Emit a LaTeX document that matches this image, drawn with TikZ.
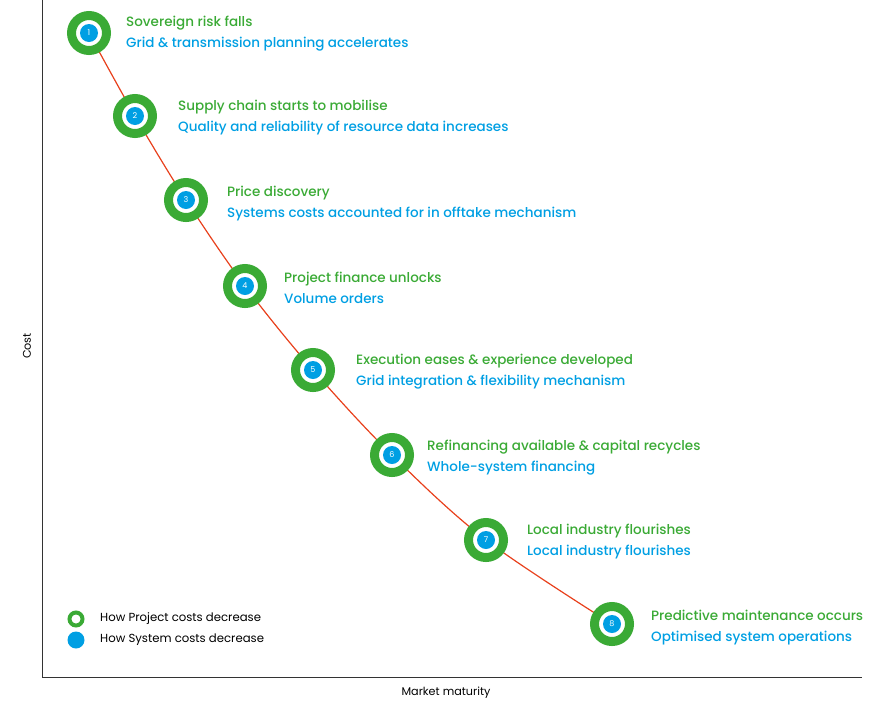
\documentclass[tikz,border=0pt]{standalone}
\usepackage{fontspec}
\setmainfont{Poppins}[UprightFont=* Medium]
\newfontfamily\legfont{Poppins}
\definecolor{cgreen}{HTML}{3AAA35}
\definecolor{cblue}{HTML}{009FE3}
\definecolor{cred}{HTML}{E8401C}
\definecolor{caxis}{HTML}{333333}
\begin{document}
\begin{tikzpicture}[x=1pt,y=-1pt,
  ring/.style={circle,draw=cgreen,line width=9pt,fill=white,minimum size=35pt,inner sep=0pt},
  dot/.style={circle,fill=cblue,minimum size=18pt,inner sep=0pt,text=white,font=\legfont\fontsize{8}{8}\selectfont},
  lbl/.style={anchor=west,align=left,inner sep=0pt,font=\fontsize{13.5}{21}\selectfont},
  axlbl/.style={font=\legfont\fontsize{11.2}{12}\selectfont,text=black,inner sep=0pt},
  leg/.style={anchor=west,font=\legfont\fontsize{11.7}{12}\selectfont,text=black,inner sep=0pt}]
\useasboundingbox (0,0) rectangle (879,702);
% axes
\coordinate (top) at (42,0);
\coordinate (orig) at (42,677);
\coordinate (right) at (862,677);
\draw[caxis,line width=1pt] (top) -- (orig) -- (right);
\node[axlbl,rotate=90] (cost) at (27,346) {Cost};
\node[axlbl] (mm) at (446,693) {Market maturity};
% centres
\coordinate (c1) at (89,33);
\coordinate (c2) at (135,116);
\coordinate (c3) at (186,200);
\coordinate (c4) at (245,286);
\coordinate (c5) at (313,370);
\coordinate (c6) at (392,455);
\coordinate (c7) at (486,540);
\coordinate (c8) at (612,624);
\draw[cred,line width=1.2pt] plot[smooth,tension=0.55] coordinates {(c1) (c2) (c3) (c4) (c5) (c6) (c7) (c8)};
\foreach \i in {1,...,8} {
  \node[ring] (r\i) at (c\i) {};
  \node[dot] (d\i) at (c\i) {\i};
}
% labels
\node[lbl] (t1) at (126,33.5) {\textcolor{cgreen}{Sovereign risk falls}\\\textcolor{cblue}{Grid \& transmission planning accelerates}};
\node[lbl] (t2) at (178,117.5) {\textcolor{cgreen}{Supply chain starts to mobilise}\\\textcolor{cblue}{Quality and reliability of resource data increases}};
\node[lbl] (t3) at (227,203.5) {\textcolor{cgreen}{Price discovery}\\\textcolor{cblue}{Systems costs accounted for in offtake mechanism}};
\node[lbl] (t4) at (284,287.5) {\textcolor{cgreen}{Project finance unlocks}\\\textcolor{cblue}{Volume orders}};
\node[lbl] (t5) at (356,371.5) {\textcolor{cgreen}{Execution eases \& experience developed}\\\textcolor{cblue}{Grid integration \& flexibility mechanism}};
\node[lbl] (t6) at (427,457.5) {\textcolor{cgreen}{Refinancing available \& capital recycles}\\\textcolor{cblue}{Whole-system financing}};
\node[lbl] (t7) at (527,541.5) {\textcolor{cgreen}{Local industry flourishes}\\\textcolor{cblue}{Local industry flourishes}};
\node[lbl] (t8) at (651,627.5) {\textcolor{cgreen}{Predictive maintenance occurs}\\\textcolor{cblue}{Optimised system operations}};
% legend
\node[circle,draw=cgreen,line width=4pt,minimum size=13pt,inner sep=0pt] (lg1) at (76,619) {};
\node[circle,fill=cblue,minimum size=17pt,inner sep=0pt] (lg2) at (76,640) {};
\node[leg] (lt1) at (100,619) {How Project costs decrease};
\node[leg] (lt2) at (100,640) {How System costs decrease};
\end{tikzpicture}
\end{document}
